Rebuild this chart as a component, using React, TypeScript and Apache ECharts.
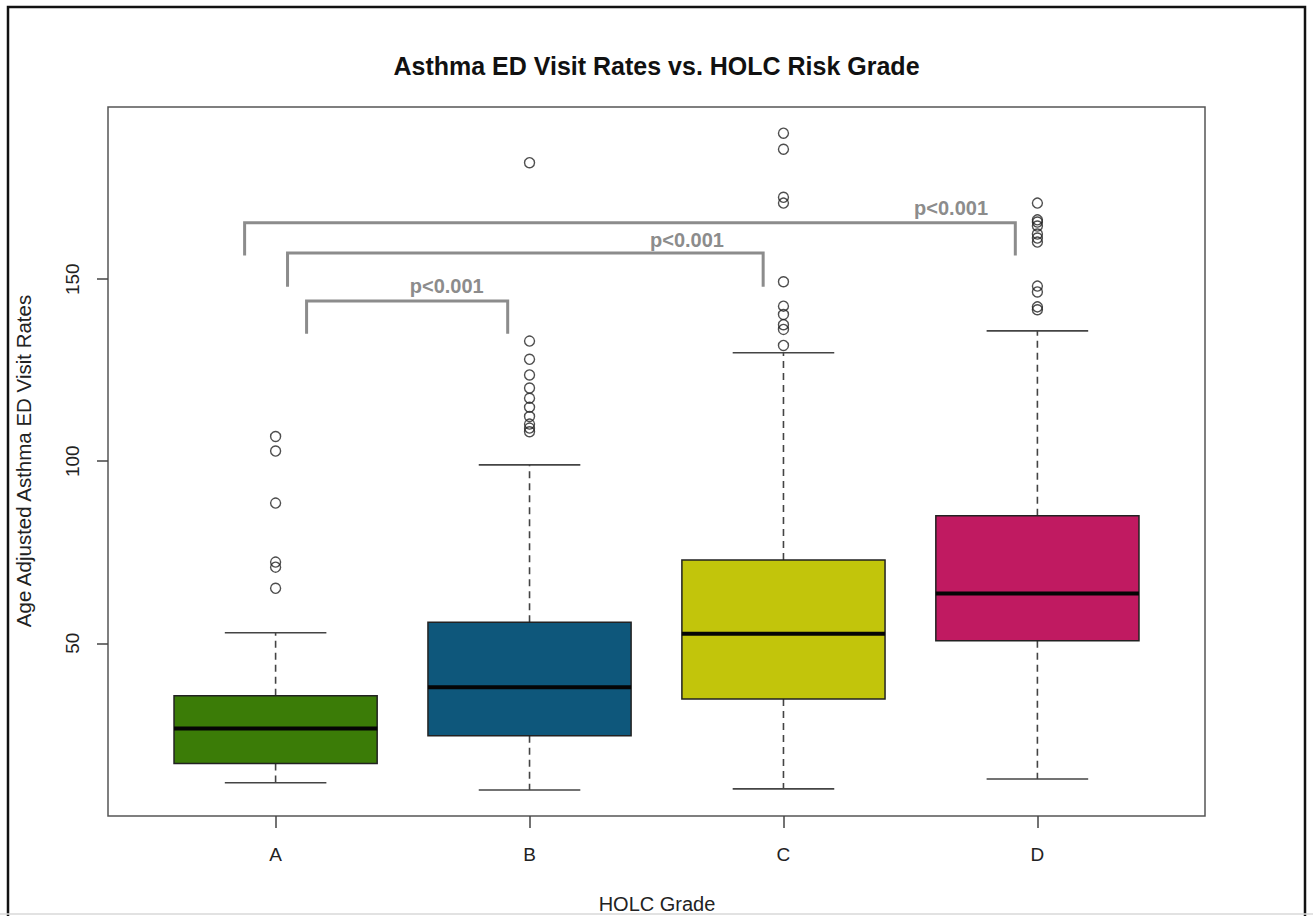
import React, { useEffect, useRef } from "react";
import * as echarts from "echarts";

// ---- data ----
const categories = ["A", "B", "C", "D"];
const lowerWhisker = [11.7, 9.7, 10.0, 12.7];
const q1 = [17.0, 24.6, 34.7, 50.7];
const median = [26.6, 37.9, 52.6, 63.7];
const q3 = [35.6, 55.8, 72.9, 85.0];
const upperWhisker = [52.9, 99.0, 129.8, 135.8];

const outliersA = [106.8, 102.8, 88.5, 72.3, 70.9, 65.1];
const outliersB = [182.0, 133.0, 128.0, 123.7, 120.1, 117.3, 114.8, 112.3, 110.2, 109.1, 108.1];
const outliersC = [190.1, 185.7, 172.5, 170.9, 149.3, 142.6, 140.3, 137.5, 136.2, 131.8];
const outliersD = [170.9, 166.3, 165.7, 164.6, 162.4, 161.3, 160.2, 148.1, 146.5, 142.4, 141.6];

const yTicks = [50, 100, 150];

// significance brackets (x in category units, y in data units)
const bracketLeftX = [1.122, 1.047, 0.878];
const bracketRightX = [1.914, 2.92, 3.913];
const bracketTopY = [144.0, 157.2, 165.5];
const bracketLegBottomY = [135.0, 147.9, 156.5];
const pLabels = ["p<0.001", "p<0.001", "p<0.001"];
const pLabelX = [1.674, 2.62, 3.66];
const pLabelY = [148.0, 160.8, 169.6];

const boxColors = ["#3b7c07", "#0e577b", "#c2c50b", "#c01a61"];

const FONT = "'Liberation Sans', Arial, Helvetica, sans-serif";

export default function App() {
  const ref = useRef<HTMLDivElement>(null);

  useEffect(() => {
    document.body.style.margin = "0";
    const chart = echarts.init(ref.current!, null, { renderer: "svg" });

    const boxData = categories.map((_, i) => [
      i + 1,
      lowerWhisker[i],
      q1[i],
      median[i],
      q3[i],
      upperWhisker[i],
    ]);

    const outlierData: number[][] = [];
    [outliersA, outliersB, outliersC, outliersD].forEach((arr, i) => {
      arr.forEach((v) => outlierData.push([i + 1, v]));
    });

    const bracketData = bracketLeftX.map((_, i) => [
      bracketLeftX[i],
      bracketRightX[i],
      bracketTopY[i],
      bracketLegBottomY[i],
      pLabelX[i],
      pLabelY[i],
      i,
    ]);

    const option: any = {
      animation: false,
      backgroundColor: "#ffffff",
      title: {
        text: "Asthma ED Visit Rates vs. HOLC Risk Grade",
        left: "center",
        top: 48,
        textStyle: {
          fontFamily: FONT,
          fontSize: 25,
          fontWeight: "bold",
          color: "#111",
        },
      },
      grid: {
        left: 108,
        top: 107,
        width: 1097,
        height: 709,
        show: true,
        borderColor: "#555",
        borderWidth: 1.5,
        backgroundColor: "transparent",
      },
      xAxis: {
        type: "value",
        min: 0.34,
        max: 4.66,
        axisLine: { show: false },
        splitLine: { show: false },
        axisTick: {
          show: true,
          customValues: [1, 2, 3, 4],
          length: 12,
          lineStyle: { color: "#444", width: 1.5 },
        },
        axisLabel: {
          customValues: [1, 2, 3, 4],
          formatter: (v: number) => categories[Math.round(v) - 1] ?? "",
          fontFamily: FONT,
          fontSize: 19,
          color: "#222",
          margin: 29,
        },
      },
      yAxis: {
        type: "value",
        min: 2.55,
        max: 197.3,
        axisLine: { show: false },
        splitLine: { show: false },
        axisTick: {
          show: true,
          customValues: yTicks,
          length: 11,
          lineStyle: { color: "#444", width: 1.5 },
        },
        axisLabel: {
          customValues: yTicks,
          rotate: 90,
          fontFamily: FONT,
          fontSize: 19,
          color: "#222",
          margin: 26,
        },
      },
      graphic: [
        {
          type: "rect",
          shape: { x: 8, y: 7, width: 1297, height: 940 },
          style: { fill: "none", stroke: "#111", lineWidth: 2.5 },
          silent: true,
        },
        {
          type: "line",
          shape: { x1: 0, y1: 914, x2: 1313, y2: 914 },
          style: { stroke: "#d8d8d8", lineWidth: 1.5 },
          silent: true,
        },
        {
          type: "text",
          x: 23,
          y: 461,
          rotation: Math.PI / 2,
          style: {
            text: "Age Adjusted Asthma ED Visit Rates",
            fontFamily: FONT,
            fontSize: 20.5,
            fill: "#222",
            textAlign: "center",
            textVerticalAlign: "middle",
          },
          silent: true,
        },
        {
          type: "text",
          x: 657,
          y: 904,
          style: {
            text: "HOLC Grade",
            fontFamily: FONT,
            fontSize: 20,
            fill: "#222",
            textAlign: "center",
            textVerticalAlign: "middle",
          },
          silent: true,
        },
      ],
      series: [
        {
          type: "custom",
          name: "box",
          data: boxData,
          encode: { x: 0, y: [1, 2, 3, 4, 5] },
          renderItem: (params: any, api: any) => {
            const x = api.value(0);
            const idx = params.dataIndex;
            const lw = api.coord([x, api.value(1)]);
            const p1 = api.coord([x, api.value(2)]);
            const md = api.coord([x, api.value(3)]);
            const p3 = api.coord([x, api.value(4)]);
            const uw = api.coord([x, api.value(5)]);
            const halfW = api.size([0.4, 0])[0];
            const capHalf = api.size([0.2, 0])[0];
            const cx = lw[0];
            const whiskerStyle = {
              stroke: "#444",
              lineWidth: 1.6,
              lineDash: [7, 5],
            };
            const capStyle = { stroke: "#444", lineWidth: 1.6 };
            return {
              type: "group",
              children: [
                {
                  type: "line",
                  shape: { x1: cx, y1: p3[1], x2: cx, y2: uw[1] },
                  style: whiskerStyle,
                },
                {
                  type: "line",
                  shape: { x1: cx, y1: p1[1], x2: cx, y2: lw[1] },
                  style: whiskerStyle,
                },
                {
                  type: "line",
                  shape: { x1: cx - capHalf, y1: uw[1], x2: cx + capHalf, y2: uw[1] },
                  style: capStyle,
                },
                {
                  type: "line",
                  shape: { x1: cx - capHalf, y1: lw[1], x2: cx + capHalf, y2: lw[1] },
                  style: capStyle,
                },
                {
                  type: "rect",
                  shape: {
                    x: cx - halfW,
                    y: p3[1],
                    width: halfW * 2,
                    height: p1[1] - p3[1],
                  },
                  style: {
                    fill: boxColors[idx],
                    stroke: "#222",
                    lineWidth: 1.5,
                  },
                },
                {
                  type: "line",
                  shape: { x1: cx - halfW, y1: md[1], x2: cx + halfW, y2: md[1] },
                  style: { stroke: "#050505", lineWidth: 4 },
                },
              ],
            };
          },
          z: 2,
        },
        {
          type: "scatter",
          name: "outliers",
          data: outlierData,
          symbol: "circle",
          symbolSize: 10,
          itemStyle: {
            color: "rgba(255,255,255,0)",
            borderColor: "#222",
            borderWidth: 1.4,
          },
          z: 3,
        },
        {
          type: "custom",
          name: "brackets",
          data: bracketData,
          encode: { x: [0, 1, 4], y: [2, 3, 5] },
          renderItem: (params: any, api: any) => {
            const l = api.value(0);
            const r = api.value(1);
            const top = api.value(2);
            const bot = api.value(3);
            const a = api.coord([l, bot]);
            const b = api.coord([l, top]);
            const c = api.coord([r, top]);
            const d = api.coord([r, bot]);
            const t = api.coord([api.value(4), api.value(5)]);
            return {
              type: "group",
              children: [
                {
                  type: "polyline",
                  shape: { points: [a, b, c, d] },
                  style: { stroke: "#8c8c8c", lineWidth: 3, fill: null },
                },
                {
                  type: "text",
                  x: t[0],
                  y: t[1],
                  style: {
                    text: pLabels[api.value(6)],
                    fontFamily: FONT,
                    fontSize: 20,
                    fontWeight: "bold",
                    fill: "#8c8c8c",
                    textAlign: "center",
                    textVerticalAlign: "middle",
                  },
                },
              ],
            };
          },
          z: 4,
        },
      ],
    };

    chart.setOption(option);
    return () => chart.dispose();
  }, []);

  return <div ref={ref} style={{ width: 1313, height: 916 }} />;
}
